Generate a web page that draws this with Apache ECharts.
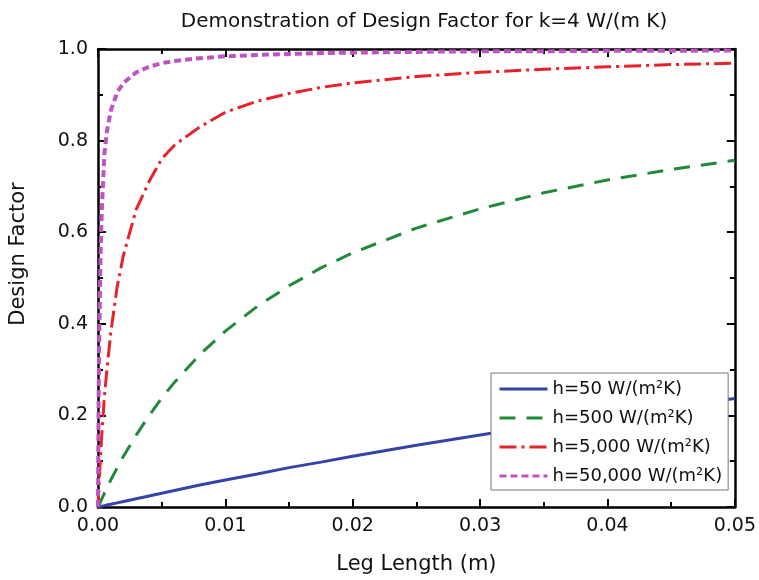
<!DOCTYPE html>
<html>
<head>
<meta charset="utf-8">
<script src="https://cdn.jsdelivr.net/npm/echarts@6/dist/echarts.min.js"></script>
<style>
  html, body { margin: 0; padding: 0; background: #fff; }
  #chart { width: 759px; height: 580px; }
</style>
</head>
<body>
<div id="chart"></div>
<script>
// leg length (m), denser near zero where the curves rise fast
var legLength = [0, 0.00005, 0.0001, 0.0002, 0.0003, 0.0005, 0.0007, 0.001, 0.0015, 0.002,
                 0.003, 0.004, 0.005, 0.006, 0.008, 0.01, 0.0125, 0.015, 0.0175, 0.02,
                 0.025, 0.03, 0.035, 0.04, 0.045, 0.05];

// design factor
var h50    = [0, 0.0003, 0.0006, 0.0012, 0.0019, 0.003, 0.0043, 0.006, 0.009, 0.012,
              0.018, 0.024, 0.030, 0.036, 0.048, 0.059, 0.072, 0.086, 0.098, 0.111,
              0.135, 0.157, 0.179, 0.199, 0.219, 0.237];
var h500   = [0, 0.003, 0.006, 0.012, 0.018, 0.030, 0.042, 0.059, 0.085, 0.111,
              0.157, 0.199, 0.238, 0.272, 0.333, 0.384, 0.438, 0.483, 0.522, 0.555,
              0.609, 0.651, 0.686, 0.714, 0.737, 0.757];
var h5000  = [0, 0.03, 0.06, 0.11, 0.16, 0.24, 0.30, 0.38, 0.48, 0.55,
              0.65, 0.71, 0.76, 0.79, 0.83, 0.862, 0.886, 0.903, 0.916, 0.926,
              0.940, 0.949, 0.956, 0.961, 0.966, 0.969];
var h50000 = [0, 0.24, 0.38, 0.55, 0.65, 0.77, 0.82, 0.865, 0.905, 0.926,
              0.949, 0.961, 0.969, 0.974, 0.980, 0.984, 0.987, 0.989, 0.991, 0.992,
              0.994, 0.995, 0.995, 0.996, 0.996, 0.997];

var seriesNames = ['h=50 W/(m²K)', 'h=500 W/(m²K)', 'h=5,000 W/(m²K)', 'h=50,000 W/(m²K)'];
var xTicks = ['0.00', '0.01', '0.02', '0.03', '0.04', '0.05'];
var yTicks = ['0.0', '0.2', '0.4', '0.6', '0.8', '1.0'];

function pairs(ys) {
    return legLength.map(function (x, i) { return [x, ys[i]]; });
}

var font = 'DejaVu Sans';
var chart = echarts.init(document.getElementById('chart'));

var frameAxis = {
    axisLine: { show: true, onZero: false, lineStyle: { color: '#000', width: 2.5 } },
    axisTick: { show: true, inside: true, length: 8, lineStyle: { color: '#000', width: 2 } },
    minorTick: { show: true, splitNumber: 2, length: 5, lineStyle: { color: '#000', width: 2 } },
    splitLine: { show: false }
};

var option = {
    animation: false,
    backgroundColor: '#fff',
    title: {
        text: 'Demonstration of Design Factor for k=4 W/(m K)',
        left: 419,
        textAlign: 'center',
        top: 7,
        textStyle: { fontFamily: font, fontSize: 20, fontWeight: 'normal', color: '#111' }
    },
    grid: { left: 98, right: 19, top: 49, bottom: 72 },
    legend: {
        orient: 'vertical',
        left: 491,
        top: 373,
        padding: [6, 6, 4, 7],
        itemGap: 9,
        itemWidth: 48,
        itemHeight: 14,
        itemTextGap: 5,
        backgroundColor: '#fff',
        borderColor: '#777',
        borderWidth: 1,
        borderRadius: 0,
        itemStyle: { opacity: 0 },
        lineStyle: { width: 3 },
        textStyle: { fontFamily: font, fontSize: 18, lineHeight: 20, color: '#111' },
        data: seriesNames
    },
    xAxis: [
        Object.assign({}, frameAxis, {
            type: 'value', min: 0, max: 0.05, interval: 0.01,
            name: 'Leg Length (m)', nameLocation: 'middle', nameGap: 47,
            nameTextStyle: { fontFamily: font, fontSize: 21, color: '#111' },
            axisLabel: {
                margin: 10, fontFamily: font, fontSize: 19, color: '#111',
                formatter: function (v) { return xTicks[Math.round(v / 0.01)]; }
            }
        }),
        Object.assign({}, frameAxis, {
            type: 'value', position: 'top', min: 0, max: 0.05, interval: 0.01,
            axisLabel: { show: false }
        })
    ],
    yAxis: [
        Object.assign({}, frameAxis, {
            type: 'value', min: 0, max: 1, interval: 0.2,
            name: 'Design Factor', nameLocation: 'middle', nameGap: 69,
            nameTextStyle: { fontFamily: font, fontSize: 21, color: '#111', padding: [0, 0, 0, 48] },
            axisLabel: {
                margin: 10, fontFamily: font, fontSize: 19, color: '#111',
                formatter: function (v) { return yTicks[Math.round(v / 0.2)]; }
            }
        }),
        Object.assign({}, frameAxis, {
            type: 'value', position: 'right', min: 0, max: 1, interval: 0.2,
            axisLabel: { show: false }
        })
    ],
    series: [
        {
            name: seriesNames[0], type: 'line', data: pairs(h50),
            symbol: 'none', showSymbol: false,
            lineStyle: { color: '#3444a6', width: 3, type: 'solid' },
            itemStyle: { color: '#3444a6' }
        },
        {
            name: seriesNames[1], type: 'line', data: pairs(h500),
            symbol: 'none', showSymbol: false,
            lineStyle: { color: '#218a38', width: 3, type: [16, 11] },
            itemStyle: { color: '#218a38' }
        },
        {
            name: seriesNames[2], type: 'line', data: pairs(h5000),
            symbol: 'none', showSymbol: false,
            lineStyle: { color: '#e8222a', width: 3, type: [17, 5, 3, 5] },
            itemStyle: { color: '#e8222a' }
        },
        {
            name: seriesNames[3], type: 'line', data: pairs(h50000),
            symbol: 'none', showSymbol: false,
            lineStyle: { color: '#c052c4', width: 4, type: [7, 4] },
            itemStyle: { color: '#c052c4' }
        }
    ]
};

chart.setOption(option);
</script>
</body>
</html>
